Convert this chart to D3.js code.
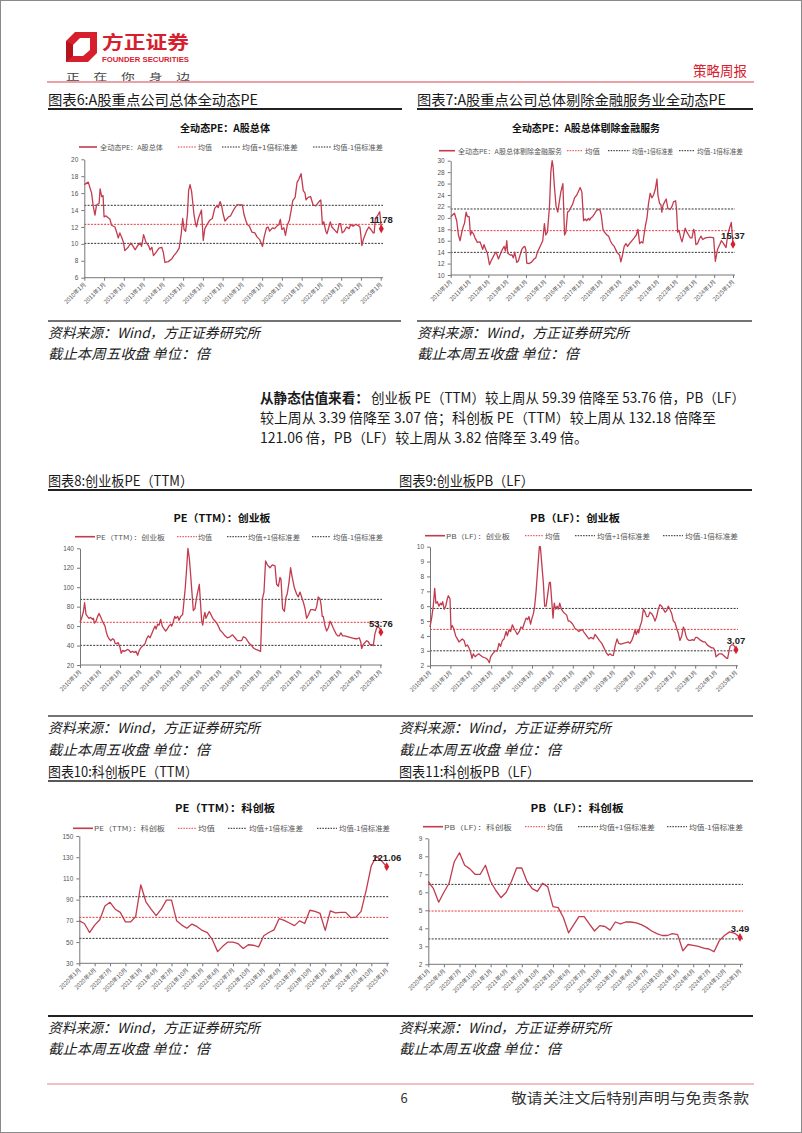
<!DOCTYPE html>
<html><head><meta charset="utf-8">
<script src="https://cdn.jsdelivr.net/npm/d3@7"></script>
<style>html,body{margin:0;padding:0;background:#fff}svg{display:block}</style>
</head><body>
<svg id="page" width="802" height="1133"></svg>
<script>
// ---------------- DATA ----------------
const yearTicks = [2010,2011,2012,2013,2014,2015,2016,2017,2018,2019,2020,2021,2022,2023,2024,2025];
const yearTickLabels = ["2010年1月","2011年1月","2012年1月","2013年1月","2014年1月","2015年1月","2016年1月","2017年1月","2018年1月","2019年1月","2020年1月","2021年1月","2022年1月","2023年1月","2024年1月","2025年1月"];
const quarterTicks = [0,3,6,9,12,15,18,21,24,27,30,33,36,39,42,45,48,51,54,57,60];
const quarterTickLabels = ["2020年1月","2020年4月","2020年7月","2020年10月","2021年1月","2021年4月","2021年7月","2021年10月","2022年1月","2022年4月","2022年7月","2022年10月","2023年1月","2023年4月","2023年7月","2023年10月","2024年1月","2024年4月","2024年7月","2024年10月","2025年1月"];

// 图表6 全动态PE：A股总体
const c6T = [2010.00,2010.20,2010.37,2010.45,2010.54,2010.62,2010.75,2010.80,2010.88,2010.95,2011.00,2011.10,2011.30,2011.38,2011.55,2011.62,2011.72,2011.80,2011.92,2011.98,2012.05,2012.22,2012.35,2012.45,2012.57,2012.70,2012.82,2012.90,2013.00,2013.12,2013.25,2013.33,2013.42,2013.50,2013.63,2013.78,2013.92,2014.00,2014.08,2014.25,2014.42,2014.53,2014.67,2014.80,2014.90,2014.98,2015.05,2015.13,2015.22,2015.28,2015.35,2015.43,2015.55,2015.62,2015.68,2015.77,2015.93,2016.02,2016.10,2016.22,2016.35,2016.48,2016.60,2016.70,2016.78,2016.87,2016.95,2017.03,2017.12,2017.30,2017.40,2017.55,2017.72,2017.88,2018.00,2018.08,2018.17,2018.25,2018.35,2018.48,2018.63,2018.75,2018.88,2019.02,2019.10,2019.22,2019.30,2019.38,2019.52,2019.63,2019.75,2019.85,2019.92,2020.00,2020.10,2020.18,2020.27,2020.38,2020.47,2020.55,2020.67,2020.77,2020.85,2020.97,2021.08,2021.17,2021.22,2021.33,2021.45,2021.58,2021.72,2021.78,2021.92,2021.97,2022.05,2022.12,2022.22,2022.28,2022.38,2022.45,2022.53,2022.72,2022.80,2022.90,2022.97,2023.05,2023.15,2023.27,2023.40,2023.48,2023.60,2023.73,2023.85,2023.95,2024.05,2024.12,2024.28,2024.40,2024.50,2024.62,2024.67,2024.73,2024.83,2024.95,2025.03];
const c6V = [17.0,17.3,16.0,14.5,13.4,14.6,14.8,16.5,15.6,15.7,13.2,13.3,12.9,12.2,12.0,11.5,10.7,11.3,10.6,10.2,9.2,9.6,10.1,9.8,9.3,9.8,10.1,9.7,11.1,10.2,9.8,9.3,9.6,8.6,9.0,9.5,9.6,9.0,7.8,7.9,8.2,8.6,9.0,9.5,11.1,13.0,11.7,11.5,13.5,16.3,17.0,16.2,13.5,12.5,12.0,13.0,14.0,10.4,11.8,12.3,12.8,13.0,14.2,14.5,14.3,15.0,14.5,13.5,12.7,13.2,13.3,14.0,14.6,14.6,14.6,13.5,12.8,12.3,12.1,11.4,11.3,10.8,10.5,9.7,10.8,11.9,12.0,11.5,11.9,11.8,12.1,12.3,12.9,11.7,11.9,11.0,12.2,12.8,14.0,15.1,15.5,17.3,17.6,18.3,16.3,16.0,15.2,15.5,15.6,14.6,14.5,14.7,15.1,15.2,12.3,12.6,11.5,11.2,12.0,12.6,12.0,11.5,11.3,12.4,12.4,11.3,11.5,12.0,11.8,12.3,12.1,12.3,12.2,12.0,9.8,10.5,11.5,12.0,11.7,11.3,11.3,13.0,13.3,13.8,11.78];
const c6Bands = [12.31,14.56,10.06];
const c6YTicks = [6,8,10,12,14,16,18,20];

// 图表7 全动态PE：A股总体剔除金融服务
const c7T = [2010.00,2010.20,2010.32,2010.41,2010.50,2010.59,2010.67,2010.73,2010.82,2010.89,2010.98,2011.05,2011.12,2011.21,2011.29,2011.42,2011.56,2011.70,2011.77,2011.86,2011.95,2012.06,2012.15,2012.23,2012.32,2012.41,2012.54,2012.62,2012.75,2012.84,2012.91,2012.98,2013.03,2013.16,2013.26,2013.33,2013.40,2013.51,2013.60,2013.69,2013.78,2013.87,2013.94,2013.99,2014.04,2014.18,2014.31,2014.43,2014.52,2014.61,2014.75,2014.89,2014.98,2015.05,2015.14,2015.25,2015.32,2015.39,2015.44,2015.51,2015.60,2015.69,2015.78,2015.85,2015.96,2016.05,2016.12,2016.21,2016.29,2016.38,2016.47,2016.58,2016.70,2016.88,2016.97,2017.06,2017.15,2017.23,2017.32,2017.38,2017.45,2017.54,2017.64,2017.73,2017.85,2017.94,2018.00,2018.09,2018.17,2018.30,2018.39,2018.48,2018.56,2018.69,2018.83,2018.97,2019.04,2019.13,2019.22,2019.31,2019.40,2019.50,2019.63,2019.75,2019.86,2019.95,2020.04,2020.12,2020.21,2020.34,2020.43,2020.51,2020.60,2020.69,2020.78,2020.87,2020.96,2021.01,2021.10,2021.17,2021.22,2021.28,2021.37,2021.45,2021.54,2021.67,2021.76,2021.84,2021.95,2022.00,2022.06,2022.13,2022.22,2022.29,2022.38,2022.46,2022.55,2022.64,2022.73,2022.82,2022.91,2022.96,2023.03,2023.12,2023.21,2023.30,2023.39,2023.53,2023.71,2023.88,2023.97,2024.06,2024.18,2024.29,2024.38,2024.50,2024.63,2024.72,2024.80,2024.91,2025.00];
const c7V = [20.2,20.8,19.5,17.0,16.0,17.5,18.5,19.0,21.0,20.2,20.2,17.0,17.6,17.2,16.5,15.7,15.8,14.5,15.3,14.5,13.8,11.8,12.5,13.0,13.6,14.0,12.8,13.5,14.5,15.0,14.2,16.0,13.8,13.5,13.5,13.0,14.0,12.2,12.5,13.5,14.5,14.9,15.0,14.5,12.1,12.0,12.3,12.8,13.0,14.0,15.0,16.0,19.0,17.0,17.5,22.0,28.0,30.0,29.0,25.5,22.0,21.0,23.0,24.5,26.0,17.0,17.5,21.0,21.2,21.8,22.3,23.5,24.0,25.3,24.5,19.5,19.8,19.5,19.9,19.6,20.0,20.2,20.7,21.2,21.5,21.3,20.5,18.0,17.5,17.0,16.8,16.0,15.5,15.0,14.0,13.5,12.3,13.5,15.0,15.5,15.0,15.5,16.0,16.5,17.0,18.0,15.5,15.8,15.6,18.5,20.0,22.5,24.3,23.5,24.0,25.0,26.8,24.0,22.5,22.3,21.0,22.2,22.8,23.3,21.6,21.5,22.0,22.8,23.0,21.5,17.5,17.8,16.5,15.8,17.0,18.2,17.5,17.0,16.5,16.5,18.0,17.5,15.3,15.5,16.3,16.8,16.2,16.5,16.6,16.6,16.5,12.4,14.5,15.3,16.0,15.5,14.8,17.0,18.0,19.2,15.37];
const c7Bands = [17.76,21.55,13.96];
const c7YTicks = [10,12,14,16,18,20,22,24,26,28,30];

// 图表8 PE（TTM）：创业板
const c8T = [2010.00,2010.08,2010.17,2010.23,2010.30,2010.37,2010.45,2010.53,2010.62,2010.67,2010.72,2010.80,2010.88,2010.95,2011.02,2011.08,2011.17,2011.25,2011.30,2011.37,2011.45,2011.53,2011.63,2011.70,2011.76,2011.83,2011.91,2012.00,2012.06,2012.13,2012.21,2012.30,2012.38,2012.46,2012.53,2012.63,2012.71,2012.80,2012.88,2012.96,2013.05,2013.16,2013.25,2013.33,2013.41,2013.50,2013.58,2013.66,2013.75,2013.80,2013.88,2013.95,2014.03,2014.11,2014.20,2014.28,2014.36,2014.44,2014.53,2014.58,2014.66,2014.73,2014.79,2014.88,2014.94,2015.03,2015.13,2015.19,2015.26,2015.33,2015.39,2015.46,2015.53,2015.59,2015.66,2015.74,2015.83,2015.91,2015.96,2016.03,2016.08,2016.13,2016.19,2016.24,2016.29,2016.38,2016.46,2016.54,2016.63,2016.71,2016.83,2016.91,2016.99,2017.13,2017.24,2017.36,2017.49,2017.62,2017.74,2017.86,2017.99,2018.07,2018.16,2018.27,2018.36,2018.46,2018.57,2018.69,2018.79,2018.91,2019.02,2019.11,2019.19,2019.27,2019.36,2019.49,2019.61,2019.74,2019.82,2019.91,2019.99,2020.04,2020.12,2020.21,2020.29,2020.35,2020.44,2020.52,2020.60,2020.70,2020.82,2020.90,2020.99,2021.07,2021.15,2021.24,2021.32,2021.42,2021.52,2021.65,2021.75,2021.82,2021.90,2021.99,2022.04,2022.10,2022.15,2022.24,2022.32,2022.40,2022.49,2022.57,2022.65,2022.79,2022.87,2022.95,2023.03,2023.12,2023.23,2023.40,2023.57,2023.73,2023.85,2023.95,2024.02,2024.07,2024.15,2024.23,2024.32,2024.40,2024.48,2024.57,2024.65,2024.73,2024.82,2024.90,2024.98,2025.03];
const c8V = [64,68,75,84,72,70,68,69,67,68,63,65,70,73,70,67,63,60,55,50,47,45,47,46,42,42,43,38,32,35,34,35,36,35,33,34,33,34,30,35,38,40,42,47,50,48,52,56,60,57,62,61,67,60,57,55,57,60,62,60,64,70,68,70,66,70,72,85,100,120,140,130,112,95,76,78,90,98,103,80,65,61,70,74,68,72,75,72,68,66,63,60,56,53,50,48,49,51,48,45,45,45,49,48,45,42,40,37,36,35,34,88,95,127,123,120,123,122,103,101,110,108,78,75,90,93,105,120,110,100,93,90,95,90,85,78,68,72,77,77,76,80,90,88,82,70,70,60,55,58,65,62,58,52,50,50,53,50,50,49,48,47,47,48,44,37,41,43,45,44,41,41,40,52,58,59.5,57,53.76];
const c8Bands = [63.9,87.5,40.2];
const c8YTicks = [20,40,60,80,100,120,140];

// 图表9 PB（LF）：创业板
const c9T = [2010.00,2010.08,2010.16,2010.23,2010.29,2010.36,2010.44,2010.51,2010.57,2010.62,2010.70,2010.77,2010.85,2010.90,2010.98,2011.03,2011.09,2011.16,2011.26,2011.34,2011.42,2011.50,2011.58,2011.67,2011.75,2011.83,2011.91,2011.99,2012.06,2012.12,2012.21,2012.29,2012.39,2012.47,2012.57,2012.66,2012.75,2012.83,2012.91,2012.97,2013.07,2013.19,2013.30,2013.38,2013.46,2013.55,2013.63,2013.73,2013.79,2013.87,2013.95,2014.04,2014.12,2014.20,2014.28,2014.38,2014.46,2014.54,2014.61,2014.71,2014.79,2014.85,2014.93,2015.00,2015.07,2015.13,2015.20,2015.28,2015.36,2015.41,2015.47,2015.56,2015.62,2015.69,2015.77,2015.85,2015.90,2015.96,2016.03,2016.09,2016.16,2016.23,2016.29,2016.36,2016.44,2016.54,2016.62,2016.70,2016.78,2016.86,2016.99,2017.11,2017.22,2017.30,2017.39,2017.48,2017.57,2017.68,2017.79,2017.88,2018.01,2018.09,2018.20,2018.30,2018.42,2018.53,2018.63,2018.74,2018.82,2018.92,2018.99,2019.07,2019.17,2019.25,2019.36,2019.48,2019.61,2019.72,2019.80,2019.89,2019.97,2020.05,2020.11,2020.18,2020.23,2020.29,2020.38,2020.46,2020.54,2020.62,2020.70,2020.78,2020.87,2020.95,2021.03,2021.11,2021.19,2021.27,2021.36,2021.44,2021.52,2021.60,2021.68,2021.76,2021.85,2021.93,2022.01,2022.09,2022.17,2022.25,2022.34,2022.42,2022.48,2022.55,2022.61,2022.70,2022.78,2022.86,2022.94,2023.02,2023.10,2023.19,2023.27,2023.40,2023.48,2023.59,2023.69,2023.81,2023.89,2023.97,2024.02,2024.10,2024.18,2024.30,2024.38,2024.46,2024.54,2024.59,2024.66,2024.71,2024.79,2024.87,2024.93,2025.00];
const c9V = [4.6,5.2,6.0,7.2,6.2,6.3,6.0,6.2,6.1,6.3,5.8,6.0,6.5,6.7,6.5,4.5,4.7,4.5,4.0,3.8,3.6,3.7,3.8,3.7,3.3,3.4,3.2,2.9,2.5,2.8,2.6,2.7,2.8,2.7,2.6,2.55,2.5,2.4,2.2,2.6,2.8,3.0,3.0,3.5,3.3,3.7,3.8,4.3,4.0,4.4,4.3,4.75,4.5,4.3,4.1,4.3,4.6,4.5,4.8,5.2,5.1,5.3,4.8,5.2,5.5,6.0,7.0,8.5,10.0,10.0,9.0,7.5,6.0,6.0,6.8,7.6,7.6,6.5,5.2,6.2,5.8,6.0,5.8,6.2,5.8,5.6,5.5,5.4,5.0,5.0,4.8,4.5,4.4,4.3,4.4,4.4,4.2,4.0,3.8,3.9,3.8,4.1,3.9,3.7,3.5,3.2,2.9,2.7,2.8,2.7,2.7,3.3,3.8,3.5,3.45,3.5,3.55,3.6,3.5,3.7,4.0,4.4,4.1,4.4,4.2,4.6,5.0,5.8,5.6,5.3,5.3,5.6,5.5,5.3,5.0,5.3,5.8,6.1,6.0,5.8,5.6,5.7,6.0,5.8,5.5,5.0,4.9,4.5,4.2,3.7,4.0,4.6,4.4,4.0,3.8,3.7,3.7,3.75,3.7,3.9,3.9,3.8,3.7,3.6,3.6,3.4,3.3,3.2,3.2,3.0,2.6,2.7,2.8,2.8,2.7,2.6,2.5,2.5,3.0,3.3,3.4,3.4,3.3,3.07];
const c9Bands = [4.44,5.85,3.0];
const c9YTicks = [2,3,4,5,6,7,8,9,10];

// 图表10 PE（TTM）：科创板 (monthly, 2020年1月 - 2025年1月)
const c10V = [70,67.5,59,66,71,84,87.5,81,78,69,69,74,104,88,81,75,81,89.5,89.5,70,66,63,67,64.5,61,59,52,41,46,50,50,48.5,44,47.5,47,45.5,56,59,61.5,72,70.5,68,65.5,70,67.5,80,79,77,61,79.5,77.5,78,78,73,73.5,79,99,122,131,126.5,121.06];
const c10Bands = [73.3,92.8,53.5];
const c10YTicks = [30,50,70,90,110,130,150];

// 图表11 PB（LF）：科创板 (monthly)
const c11V = [6.6,6.2,5.45,6.0,6.5,7.7,8.2,7.5,7.3,7.0,7.0,7.5,6.6,6.1,5.7,6.0,6.6,7.35,7.35,6.6,6.2,6.05,6.5,6.3,5.2,5.15,4.6,3.75,4.2,4.65,4.65,4.25,3.85,4.15,4.1,3.9,4.35,4.25,4.35,4.35,4.3,4.2,4.05,3.85,3.7,3.6,3.6,3.7,3.65,2.75,3.1,3.05,3.0,2.9,2.85,2.7,3.3,3.6,3.8,3.72,3.49];
const c11Bands = [4.96,6.44,3.41];
const c11YTicks = [2,3,4,5,6,7,8,9];

const legendTail = ["均值","均值+1倍标准差","均值-1倍标准差"];

// ---------------- DRAW ----------------
const svg = d3.select("#page");
const CJK = '"Noto Sans CJK SC","Noto Sans",sans-serif';
const SANS = '"Liberation Sans",Arial,"Noto Sans CJK SC",sans-serif';
const RED = "#C23B4E";

function txt(x,y,s,o={}){
  const t = svg.append("text").attr("x",x).attr("y",y).text(s)
    .attr("font-family",o.family||CJK).attr("font-size",o.size||14)
    .attr("fill",o.fill||"#1a1a1a").attr("dominant-baseline","central");
  if(o.weight) t.attr("font-weight",o.weight);
  if(o.italic) t.attr("font-style","italic");
  if(o.anchor) t.attr("text-anchor",o.anchor);
  if(o.width) t.attr("textLength",o.width).attr("lengthAdjust","spacingAndGlyphs");
  return t;
}
function hline(x1,x2,y,w,c){ svg.append("line").attr("x1",x1).attr("x2",x2).attr("y1",y).attr("y2",y).attr("stroke",c).attr("stroke-width",w); }

// page border
svg.append("rect").attr("x",0.5).attr("y",0.5).attr("width",801).attr("height",1132).attr("fill","none").attr("stroke","#8a8a8a");

// header logo
svg.append("path").attr("d","M66,41 L75,32 L97,32 L97,53 L88,62 L66,62 Z").attr("fill","#D7202E");
svg.append("path").attr("d","M73,45 L80,38 L90,38 L90,50 L83,56 L73,56 Z").attr("fill","#fff");
svg.append("path").attr("d","M66,62 L73,56 L73,45 L66,41 Z").attr("fill","#B5141F");
txt(102,41,"方正证券",{size:18,weight:700,fill:"#D7202E",width:87});
txt(102,59.5,"FOUNDER SECURITIES",{size:7.5,weight:700,fill:"#D7202E",family:SANS,width:87});
txt(66,76,"正　在　你　身　边",{size:9,fill:"#444",width:124});
txt(693,70,"策略周报",{size:14,fill:"#D7202E",width:54});
hline(47,754,82,1.2,"#E0404E");

// section headers
txt(48,99,"图表6:A股重点公司总体全动态PE",{size:14,width:210});
txt(417,99,"图表7:A股重点公司总体剔除金融服务业全动态PE",{size:14,width:309});
hline(48,402,109,2,"#222"); hline(417,753,109,2,"#222");
hline(48,401,321,1.5,"#444"); hline(417,752,321,1.5,"#444");
const src1 = "资料来源：Wind，方正证券研究所", src2 = "截止本周五收盘 单位：倍";
txt(48,332,src1,{size:14,italic:1,width:212}); txt(417,332,src1,{size:14,italic:1,width:212});
txt(48,353,src2,{size:14,italic:1,width:162}); txt(417,353,src2,{size:14,italic:1,width:162});

txt(260,397,"从静态估值来看：",{size:14,weight:700,width:109});
txt(371,397,"创业板 PE（TTM）较上周从 59.39 倍降至 53.76 倍，PB（LF）",{size:14,width:374});
txt(260,417,"较上周从 3.39 倍降至 3.07 倍；科创板 PE（TTM）较上周从 132.18 倍降至",{size:14,width:456});
txt(260,437,"121.06 倍，PB（LF）较上周从 3.82 倍降至 3.49 倍。",{size:14,width:328});

txt(48,480,"图表8:创业板PE（TTM）",{size:14,width:145});
txt(399,480,"图表9:创业板PB（LF）",{size:14,width:135});
hline(48,752,490,2,"#222");
hline(48,753,716,1.5,"#444");
txt(48,727,src1,{size:14,italic:1,width:212}); txt(399,727,src1,{size:14,italic:1,width:212});
txt(48,749,src2,{size:14,italic:1,width:162}); txt(399,749,src2,{size:14,italic:1,width:162});
txt(48,771,"图表10:科创板PE（TTM）",{size:14,width:150});
txt(399,771,"图表11:科创板PB（LF）",{size:14,width:141});
hline(48,753,781,1.5,"#222");
hline(48,753,1016,2,"#222");
txt(48,1027,src1,{size:14,italic:1,width:212}); txt(399,1027,src1,{size:14,italic:1,width:212});
txt(48,1048,src2,{size:14,italic:1,width:162}); txt(399,1048,src2,{size:14,italic:1,width:162});
hline(47,754,1084,1.2,"#E8808E");
txt(404,1097,"6",{size:13,fill:"#333",anchor:"middle"});
txt(511,1097,"敬请关注文后特别声明与免责条款",{size:14,fill:"#333",width:238});

function drawChart(c){
  const g = svg.append("g");
  const x = d3.scaleLinear().domain(c.xDomain).range([c.x0,c.x1]);
  const y = d3.scaleLinear().domain(c.yDomain).range([c.yBot,c.yTop]);
  // title
  g.append("text").attr("x",c.title[0]).attr("y",c.title[1]).attr("text-anchor","middle")
    .attr("dominant-baseline","central").attr("font-family",CJK).attr("font-weight",700)
    .attr("font-size",10.5).attr("fill","#111").attr("textLength",c.title[2]).attr("lengthAdjust","spacingAndGlyphs").text(c.name);
  // legend
  const names=[c.name].concat(legendTail);
  const styles=[{s:RED,d:null,w:1.6},{s:"#E8383D",d:"1.5,1.2",w:1},{s:"#222",d:"1.5,1.2",w:1},{s:"#222",d:"1.5,1.2",w:1}];
  c.legend.forEach((L,i)=>{
    const ln=g.append("line").attr("x1",L[0]).attr("x2",L[1]).attr("y1",c.legendY).attr("y2",c.legendY)
      .attr("stroke",styles[i].s).attr("stroke-width",styles[i].w);
    if(styles[i].d) ln.attr("stroke-dasharray",styles[i].d);
    g.append("text").attr("x",L[2]).attr("y",c.legendY).attr("dominant-baseline","central")
      .attr("font-family",CJK).attr("font-size",6.5).attr("fill","#555")
      .attr("textLength",L[3]-L[2]).attr("lengthAdjust","spacingAndGlyphs").text(names[i]);
  });
  // bands
  const bandStyle=[{s:"#E8383D"},{s:"#333"},{s:"#333"}];
  c.bands.forEach((b,i)=>{
    g.append("line").attr("x1",c.x0).attr("x2",c.axisEnd).attr("y1",y(b)).attr("y2",y(b))
      .attr("stroke",bandStyle[i].s).attr("stroke-width",1).attr("stroke-dasharray","2,1.3");
  });
  // y axis
  const ya=g.append("g").attr("transform",`translate(${c.x0},0)`)
    .call(d3.axisLeft(y).tickValues(c.yTicks).tickFormat(d3.format("d")).tickSize(3).tickPadding(3).tickSizeOuter(0));
  ya.select(".domain").attr("stroke","#777");
  ya.selectAll(".tick line").attr("stroke","#777");
  ya.selectAll("text").attr("font-family",SANS).attr("font-size",6.5).attr("fill","#555");
  // x axis
  const xa=g.append("g").attr("transform",`translate(0,${c.yBot})`)
    .call(d3.axisBottom(x).tickValues(c.xTicks).tickFormat((d,i)=>c.xLabels[i]).tickSize(3).tickSizeOuter(0));
  xa.select(".domain").remove();
  xa.append("line").attr("x1",c.x0).attr("x2",c.axisEnd).attr("y1",0).attr("y2",0).attr("stroke","#777");
  xa.selectAll(".tick line").attr("stroke","#777");
  xa.selectAll("text").attr("font-family",CJK).attr("font-size",5.8).attr("fill","#555")
    .attr("x",-4).attr("y",4).attr("dy","0.35em").attr("text-anchor","end").attr("transform","rotate(-45)");
  // series
  const pts=c.values.map((v,i)=>[c.t[i],v]);
  g.append("path").attr("d",d3.line().x(d=>x(d[0])).y(d=>y(d[1]))(pts))
    .attr("fill","none").attr("stroke",RED).attr("stroke-width",1.3).attr("stroke-linejoin","round");
  const last=pts[pts.length-1];
  g.append("path").attr("d",d3.symbol(d3.symbolDiamond,22)()).attr("transform",`translate(${x(last[0])},${y(last[1])})`).attr("fill","#D7202E");
  g.append("text").attr("x",x(last[0])).attr("y",y(last[1])-9).attr("text-anchor","middle").attr("dominant-baseline","central")
    .attr("font-family",SANS).attr("font-weight",700).attr("font-size",9.5).attr("fill","#222").text(d3.format(".2f")(last[1]));
}

const monthIdx = c10V.map((d,i)=>i);
drawChart({name:"全动态PE：A股总体",title:[225,127,90],legendY:147,
  legend:[[79,97,100,163],[178,196,198,212],[222,240,242,298],[313,331,333,383]],
  t:c6T,values:c6V,bands:c6Bands,yTicks:c6YTicks,yDomain:[6,20],xDomain:[2010,2025],xTicks:yearTicks,xLabels:yearTickLabels,
  x0:84.3,x1:380.7,axisEnd:383,yTop:159.3,yBot:277.7});
drawChart({name:"全动态PE：A股总体剔除金融服务",title:[586,127,148],legendY:150.7,
  legend:[[439,455,458,562],[567,583,585,600],[608,630,632,673],[679,695,697,743]],
  t:c7T,values:c7V,bands:c7Bands,yTicks:c7YTicks,yDomain:[10,30],xDomain:[2010,2025],xTicks:yearTicks,xLabels:yearTickLabels,
  x0:450.7,x1:733,axisEnd:735,yTop:160.7,yBot:275});
drawChart({name:"PE（TTM）：创业板",title:[222,517,97],legendY:536.7,
  legend:[[75,95,96,165],[177,197,198,212],[227,247,248,300],[312,330,333,383]],
  t:c8T,values:c8V,bands:c8Bands,yTicks:c8YTicks,yDomain:[20,140],xDomain:[2010,2025],xTicks:yearTicks,xLabels:yearTickLabels,
  x0:80,x1:380.3,axisEnd:382,yTop:548.3,yBot:665});
drawChart({name:"PB（LF）：创业板",title:[575,517,90],legendY:535.7,
  legend:[[425,445,446,510],[525,543,545,560],[575,595,597,650],[663,683,685,738]],
  t:c9T,values:c9V,bands:c9Bands,yTicks:c9YTicks,yDomain:[2,10],xDomain:[2010,2025],xTicks:yearTicks,xLabels:yearTickLabels,
  x0:430,x1:736,axisEnd:738,yTop:546.7,yBot:665.7});
drawChart({name:"PE（TTM）：科创板",title:[225,807,100],legendY:828.3,
  legend:[[73,93,94,165],[178,197,198,215],[228,247,249,303],[317,337,339,390]],
  t:monthIdx,values:c10V,bands:c10Bands,yTicks:c10YTicks,yDomain:[30,150],xDomain:[0,60],xTicks:quarterTicks,xLabels:quarterTickLabels,
  x0:79.3,x1:386.7,axisEnd:389,yTop:836,yBot:963.3});
drawChart({name:"PB（LF）：科创板",title:[577,807,93],legendY:826.7,
  legend:[[423,443,444,512],[525,545,547,563],[578,598,599,655],[667,687,689,743]],
  t:monthIdx,values:c11V,bands:c11Bands,yTicks:c11YTicks,yDomain:[2,9],xDomain:[0,60],xTicks:quarterTicks,xLabels:quarterTickLabels,
  x0:428.3,x1:740,axisEnd:743,yTop:838.3,yBot:964.3});
</script>
</body></html>
